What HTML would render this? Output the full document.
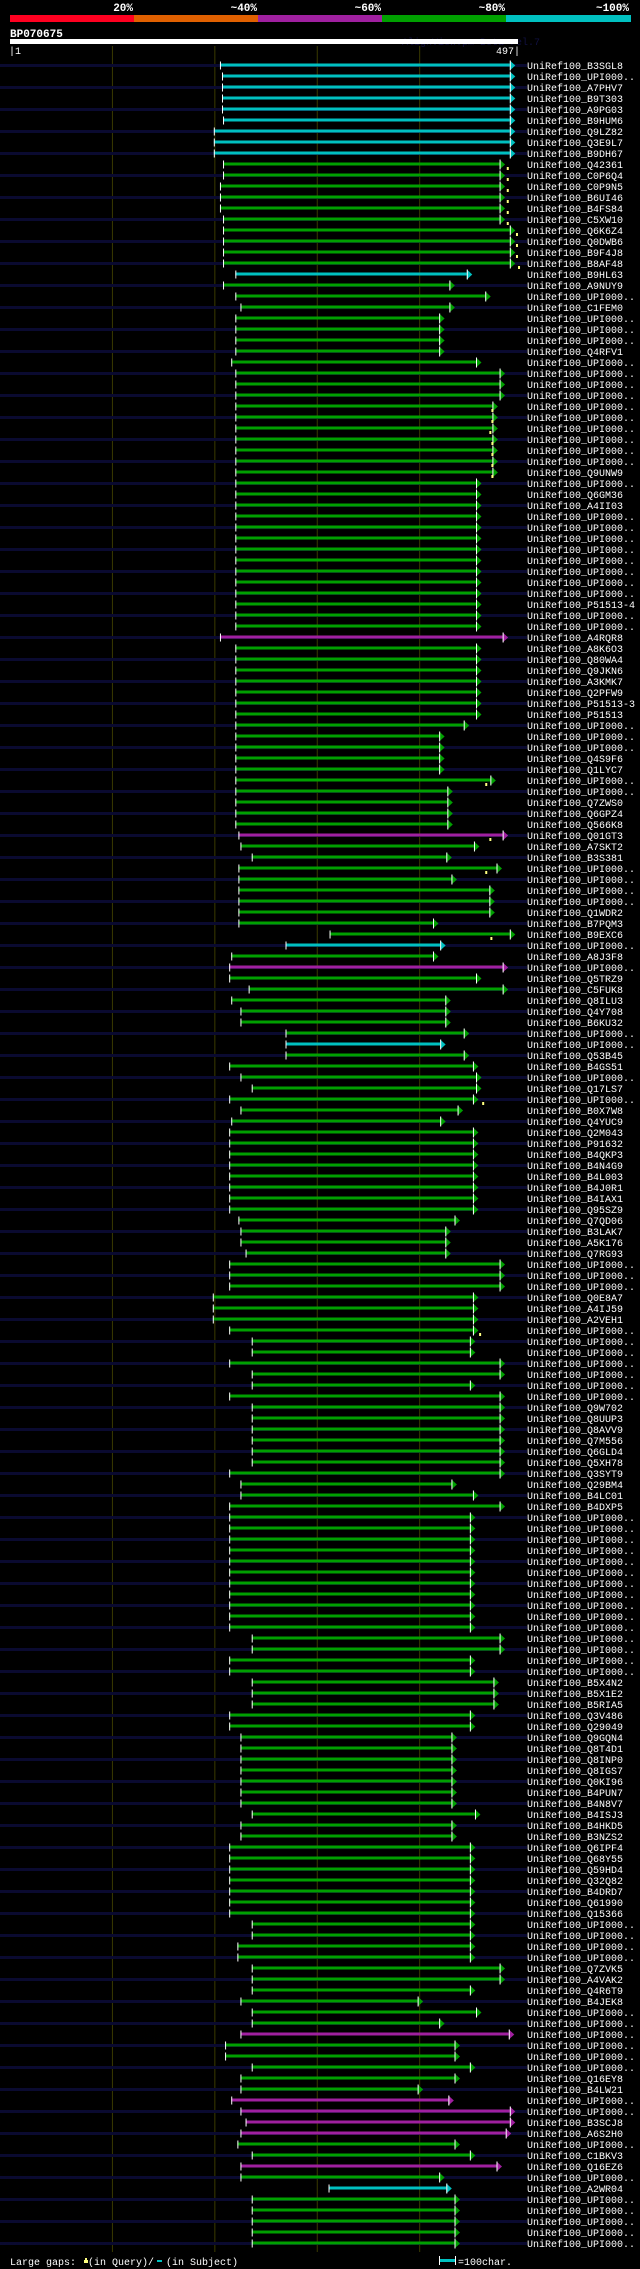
<!DOCTYPE html>
<html><head><meta charset="utf-8">
<style>
html,body{margin:0;padding:0;background:#000;width:640px;height:2269px;overflow:hidden}
svg{display:block}
text{font-family:"Liberation Mono",monospace}
</style></head>
<body>
<svg id="chart" width="640" height="2269" viewBox="0 0 640 2269" xmlns="http://www.w3.org/2000/svg">
  <g>
    <rect x="10" y="15" width="124" height="7" fill="#ff0020"/>
    <rect x="134" y="15" width="124" height="7" fill="#e06000"/>
    <rect x="258" y="15" width="124" height="7" fill="#a020a0"/>
    <rect x="382" y="15" width="124" height="7" fill="#00a000"/>
    <rect x="506" y="15" width="125" height="7" fill="#00c0c0"/>
    <g fill="#fff" font-size="11" font-weight="bold" text-anchor="end">
      <text x="133" y="11">20%</text>
      <text x="257" y="11">~40%</text>
      <text x="381" y="11">~60%</text>
      <text x="505" y="11">~80%</text>
      <text x="629" y="11">~100%</text>
    </g>
  </g>
  <text x="10" y="37" fill="#fff" font-size="11" font-weight="bold">BP070675</text>
  <text x="402" y="45" fill="#101040" font-size="10">AlignView.pm Beta rel.7</text>
  <rect x="10" y="39" width="508" height="5" fill="#fff"/>
  <text x="9" y="54" fill="#fff" font-size="10">|1</text>
  <text x="520" y="54" fill="#fff" font-size="10" text-anchor="end">497|</text>
  <g id="grid"></g>
  <g id="rows"></g>
  <g>
    <text x="10" y="2265" fill="#fff" font-size="10" xml:space="preserve">Large gaps:  (in Query)/  (in Subject)</text>
    <path d="M84 2263 h4 v-3 h-1 v-2 h-2 v2 h-1z" fill="#ffff80"/>
    <rect x="157" y="2260" width="5" height="2" fill="#00c0c0"/>
    <rect x="439" y="2259" width="16" height="3" fill="#00c0c0"/>
    <rect x="439" y="2256" width="1" height="9" fill="#fff"/>
    <rect x="455" y="2256" width="1" height="9" fill="#fff"/>
    <text x="458" y="2265" fill="#fff" font-size="10">=100char.</text>
  </g>
</svg>
<script>
const queryLength = 497;
const gridTicks = [101, 201, 301, 401];
const U = "UniRef100_UPI000..";
const names = ["UniRef100_B3SGL8",U,"UniRef100_A7PHV7","UniRef100_B9T303","UniRef100_A9PG03","UniRef100_B9HUM6","UniRef100_Q9LZ82","UniRef100_Q3E9L7","UniRef100_B9DH67","UniRef100_Q42361",
"UniRef100_C0P6Q4","UniRef100_C0P9N5","UniRef100_B6UI46","UniRef100_B4FS84","UniRef100_C5XW10","UniRef100_Q6K6Z4","UniRef100_Q0DWB6","UniRef100_B9F4J8","UniRef100_B8AF48","UniRef100_B9HL63",
"UniRef100_A9NUY9",U,"UniRef100_C1FEM0",U,U,U,"UniRef100_Q4RFV1",U,U,U,
U,U,U,U,U,U,U,"UniRef100_Q9UNW9",U,"UniRef100_Q6GM36",
"UniRef100_A4II03",U,U,U,U,U,U,U,U,"UniRef100_P51513-4",
U,U,"UniRef100_A4RQR8","UniRef100_A8K6O3","UniRef100_Q80WA4","UniRef100_Q9JKN6","UniRef100_A3KMK7","UniRef100_Q2PFW9","UniRef100_P51513-3","UniRef100_P51513",
U,U,U,"UniRef100_Q4S9F6","UniRef100_Q1LYC7",U,U,"UniRef100_Q7ZWS0","UniRef100_Q6GPZ4","UniRef100_Q566K8",
"UniRef100_Q01GT3","UniRef100_A7SKT2","UniRef100_B3S381",U,U,U,U,"UniRef100_Q1WDR2","UniRef100_B7PQM3","UniRef100_B9EXC6",
U,"UniRef100_A8J3F8",U,"UniRef100_Q5TRZ9","UniRef100_C5FUK8","UniRef100_Q8ILU3","UniRef100_Q4Y708","UniRef100_B6KU32",U,U,
"UniRef100_Q53B45","UniRef100_B4GS51",U,"UniRef100_Q17LS7",U,"UniRef100_B0X7W8","UniRef100_Q4YUC9","UniRef100_Q2M043","UniRef100_P91632","UniRef100_B4QKP3",
"UniRef100_B4N4G9","UniRef100_B4L003","UniRef100_B4J0R1","UniRef100_B4IAX1","UniRef100_Q95SZ9","UniRef100_Q7QD06","UniRef100_B3LAK7","UniRef100_A5K176","UniRef100_Q7RG93",U,
U,U,"UniRef100_Q0E8A7","UniRef100_A4IJ59","UniRef100_A2VEH1",U,U,U,U,U,
U,U,"UniRef100_Q9W702","UniRef100_Q8UUP3","UniRef100_Q8AVV9","UniRef100_Q7M556","UniRef100_Q6GLD4","UniRef100_Q5XH78","UniRef100_Q3SYT9","UniRef100_Q29BM4",
"UniRef100_B4LC01","UniRef100_B4DXP5",U,U,U,U,U,U,U,U,
U,U,U,U,U,U,U,"UniRef100_B5X4N2","UniRef100_B5X1E2","UniRef100_B5RIA5",
"UniRef100_Q3V486","UniRef100_Q29049","UniRef100_Q9GQN4","UniRef100_Q8T4D1","UniRef100_Q8INP0","UniRef100_Q8IGS7","UniRef100_Q0KI96","UniRef100_B4PUN7","UniRef100_B4N8V7","UniRef100_B4ISJ3",
"UniRef100_B4HKD5","UniRef100_B3NZS2","UniRef100_Q6IPF4","UniRef100_Q68Y55","UniRef100_Q59HD4","UniRef100_Q32Q82","UniRef100_B4DRD7","UniRef100_Q61990","UniRef100_Q15366",U,
U,U,U,"UniRef100_Q7ZVK5","UniRef100_A4VAK2","UniRef100_Q4R6T9","UniRef100_B4JEK8",U,U,U,
U,U,U,"UniRef100_Q16EY8","UniRef100_B4LW21",U,U,"UniRef100_B3SCJ8","UniRef100_A6S2H0",U,
"UniRef100_C1BKV3","UniRef100_Q16EZ6",U,"UniRef100_A2WR04",U,U,U,U,U];
const starts = [206,208,208,208,208,209,200,200,200,209, 209,206,206,206,209,209,209,209,209,221, 209,221,226,221,221,221,221,217,221,221,
221,221,221,221,221,221,221,221,221,221, 221,221,221,221,221,221,221,221,221,221, 221,221,206,221,221,221,221,221,221,221,
221,221,221,221,221,221,221,221,221,221, 224,226,237,224,224,224,224,224,224,313, 270,217,215,215,234,217,226,226,270,270,
270,215,226,237,215,226,217,215,215,215, 215,215,215,215,215,224,226,226,231,215, 215,215,199,199,199,215,237,237,215,237,
237,215,237,237,237,237,237,237,215,226, 226,215,215,215,215,215,215,215,215,215, 215,215,215,237,237,215,215,237,237,237,
215,215,226,226,226,226,226,226,226,237, 226,226,215,215,215,215,215,215,215,237, 237,223,223,237,237,237,226,237,237,226,
211,211,237,226,226,217,226,231,226,223, 237,226,226,312,237,237,237,237,237];
const ends = [489,489,489,489,489,489,489,489,489,479, 479,479,479,479,479,489,489,489,489,447, 430,465,430,420,420,420,420,456,479,479,
479,472,472,472,472,472,472,472,456,456, 456,456,456,456,456,456,456,456,456,456, 456,456,482,456,456,456,456,456,456,456,
444,420,420,420,420,470,428,428,428,428, 482,454,427,476,432,469,469,469,414,489, 421,414,482,456,482,426,426,426,444,421,
444,453,456,456,453,438,421,453,453,453, 453,453,453,453,453,435,426,426,426,479, 479,479,453,453,453,453,450,450,479,479,
450,479,479,479,479,479,479,479,479,432, 453,479,450,450,450,450,450,450,450,450, 450,450,450,479,479,450,450,473,473,473,
450,450,432,432,432,432,432,432,432,455, 432,432,450,450,450,450,450,450,450,450, 450,450,450,479,479,450,399,456,420,488,
435,435,450,435,399,429,489,489,485,435, 450,476,420,427,435,435,435,435,435];
const identity = ["c","c","c","c","c","c","c","c","c","g", "g","g","g","g","g","g","g","g","g","c", "g","g","g","g","g","g","g","g","g","g",
"g","g","g","g","g","g","g","g","g","g", "g","g","g","g","g","g","g","g","g","g", "g","g","m","g","g","g","g","g","g","g",
"g","g","g","g","g","g","g","g","g","g", "m","g","g","g","g","g","g","g","g","g", "c","g","m","g","g","g","g","g","g","c",
"g","g","g","g","g","g","g","g","g","g", "g","g","g","g","g","g","g","g","g","g", "g","g","g","g","g","g","g","g","g","g",
"g","g","g","g","g","g","g","g","g","g", "g","g","g","g","g","g","g","g","g","g", "g","g","g","g","g","g","g","g","g","g",
"g","g","g","g","g","g","g","g","g","g", "g","g","g","g","g","g","g","g","g","g", "g","g","g","g","g","g","g","g","g","m",
"g","g","g","g","g","m","m","m","m","g", "g","m","g","c","g","g","g","g","g"];
const gapRows = [9,10,11,12,13,14,15,16,17,18,31,32,33,34,35,36,37,65,70,73,79,94,115];
const gapPos = [487,487,487,487,487,487,496,496,496,498,472,472,470,472,472,472,472,466,470,466,471,463,460];

const NS = "http://www.w3.org/2000/svg";
const X0 = 10, X1 = 518, Y0 = 65, ROW = 11;
function xScale(p){ return X0 + (p - 1) * (X1 - X0) / (queryLength - 1); }
function yScale(i){ return Y0 + i * ROW; }
const COL = {c:"#00c0c0", g:"#00a000", m:"#a020a0"};
function mk(tag, attrs, parent){ const e = document.createElementNS(NS, tag); for (const k in attrs) e.setAttribute(k, attrs[k]); parent.appendChild(e); return e; }

const grid = document.getElementById("grid");
gridTicks.forEach(function(t){
  const l = mk("line", {x1:xScale(t), x2:xScale(t), y1:46, y2:2252, stroke:"#3a3a00", "stroke-width":1}, grid);
  
  
});

const rows = document.getElementById("rows");
names.forEach(function(n, i){
  const y = yScale(i);
  const g = mk("g", {}, rows);
  
  
  if (i % 2 === 0) {
    mk("rect", {x:0, y:y-1, width:527, height:3, fill:"#0a0a30"}, g);
  }
  const xs = xScale(starts[i]), xe = xScale(ends[i]);
  const col = COL[identity[i]];
  const bar = mk("rect", {x:xs, y:y-1.5, width:Math.max(0, xe - xs), height:3, fill:col}, g);
  
  
  mk("rect", {x:xs, y:y-3.5, width:1, height:8, fill:"#fff"}, g);
  mk("path", {d:"M"+xe+" "+(y-4.5)+" L"+(xe+5.5)+" "+(y+0.5)+" L"+xe+" "+(y+5.5)+"Z", fill:col}, g);
  mk("rect", {x:xe, y:y-4.5, width:1, height:10, fill:"#fff"}, g);
  const t = mk("text", {x:527, y:y+4, fill:"#fff", "font-size":"10"}, g);
  
  
  t.textContent = n;
});
gapRows.forEach(function(r, k){
  const y = yScale(r), x = xScale(gapPos[k]);
  const m = mk("rect", {x:x-1, y:y+3, width:2, height:3, fill:"#ffff80"}, rows);
  
  
});
</script>
</body></html>
